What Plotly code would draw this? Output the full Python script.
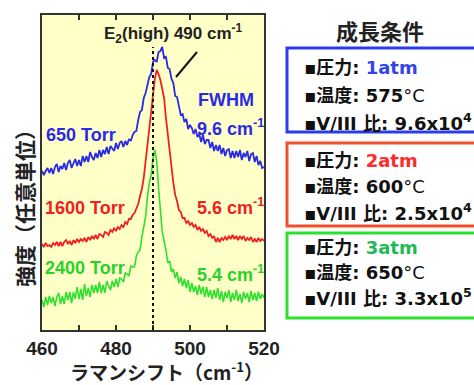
import plotly.graph_objects as go

# ---------------- data ----------------
WAVENUMBER = [460.0, 460.5, 461.0, 461.5, 462.0, 462.5, 463.0, 463.5, 464.0, 464.5,
              465.0, 465.5, 466.0, 466.5, 467.0, 467.5, 468.0, 468.5, 469.0, 469.5,
              470.0, 470.5, 471.0, 471.5, 472.0, 472.5, 473.0, 473.5, 474.0, 474.5,
              475.0, 475.5, 476.0, 476.5, 477.0, 477.5, 478.0, 478.5, 479.0, 479.5,
              480.0, 480.5, 481.0, 481.5, 482.0, 482.5, 483.0, 483.5, 484.0, 484.5,
              485.0, 485.5, 486.0, 486.5, 487.0, 487.5, 488.0, 488.5, 489.0, 489.5,
              490.0, 490.5, 491.0, 491.5, 492.0, 492.5, 493.0, 493.5, 494.0, 494.5,
              495.0, 495.5, 496.0, 496.5, 497.0, 497.5, 498.0, 498.5, 499.0, 499.5,
              500.0, 500.5, 501.0, 501.5, 502.0, 502.5, 503.0, 503.5, 504.0, 504.5,
              505.0, 505.5, 506.0, 506.5, 507.0, 507.5, 508.0, 508.5, 509.0, 509.5,
              510.0, 510.5, 511.0, 511.5, 512.0, 512.5, 513.0, 513.5, 514.0, 514.5,
              515.0, 515.5, 516.0, 516.5, 517.0, 517.5, 518.0, 518.5, 519.0, 519.5,
              520.0]

TORR_650 = [159, 155, 159, 162, 157, 162, 156, 163, 166, 158,
            164, 161, 167, 160, 167, 170, 162, 167, 171, 164,
            170, 164, 174, 168, 174, 168, 178, 173, 170, 177,
            172, 180, 173, 180, 176, 183, 176, 184, 182, 179,
            187, 181, 187, 189, 183, 189, 185, 191, 189, 195,
            198, 199, 210, 218, 220, 232, 237, 247, 253, 256,
            268, 270, 268, 278, 279, 283, 272, 273, 262, 261,
            251, 247, 234, 233, 225, 215, 216, 208, 211, 201,
            205, 202, 196, 201, 193, 196, 188, 195, 186, 190,
            190, 182, 188, 179, 185, 179, 185, 176, 182, 174,
            180, 181, 172, 179, 172, 179, 173, 180, 170, 177,
            173, 179, 169, 176, 177, 168, 174, 165, 169, 162,
            163]

TORR_1600 = [86, 83, 87, 84, 85, 83, 87, 85, 88, 84,
             88, 84, 88, 90, 86, 89, 85, 90, 87, 91,
             88, 91, 89, 92, 88, 93, 90, 94, 91, 95,
             91, 96, 95, 93, 98, 97, 95, 100, 98, 102,
             99, 103, 101, 105, 103, 108, 106, 111, 111, 115,
             117, 122, 126, 134, 141, 152, 167, 182, 201, 218,
             235, 251, 260, 256, 250, 241, 232, 212, 195, 179,
             160, 147, 135, 129, 120, 118, 112, 112, 107, 109,
             105, 107, 103, 105, 100, 103, 99, 101, 97, 99,
             94, 96, 92, 94, 88, 92, 88, 92, 90, 93,
             90, 94, 91, 95, 91, 94, 90, 94, 91, 94,
             89, 92, 90, 93, 88, 91, 88, 92, 89, 91,
             89]

TORR_2400 = [30, 23, 33, 25, 34, 27, 33, 24, 33, 37,
             26, 34, 26, 38, 30, 38, 27, 38, 31, 43,
             31, 41, 30, 46, 34, 42, 33, 45, 37, 45,
             37, 48, 37, 45, 37, 49, 44, 40, 49, 43,
             51, 43, 52, 51, 48, 57, 56, 54, 64, 63,
             63, 74, 78, 80, 93, 104, 113, 133, 147, 155,
             172, 180, 169, 142, 123, 98, 89, 80, 67, 69,
             58, 61, 52, 58, 47, 53, 44, 51, 42, 50,
             38, 47, 38, 44, 35, 45, 36, 43, 33, 43,
             33, 40, 31, 40, 32, 42, 30, 39, 28, 38,
             32, 40, 28, 37, 30, 40, 29, 36, 27, 38,
             31, 37, 28, 39, 30, 37, 29, 38, 31, 36,
             32]

SERIES_NAMES = ["650 Torr", "1600 Torr", "2400 Torr"]
FWHM_LABELS = ["9.6", "5.6", "5.4"]
PEAK_POS = 490

COND_PRESSURE = ["1atm", "2atm", "3atm"]
COND_TEMP = ["575", "600", "650"]
COND_RATIO = ["9.6x10<sup>4</sup>", "2.5x10<sup>4</sup>", "3.3x10<sup>5</sup>"]

assert len(WAVENUMBER) == len(TORR_650) == len(TORR_1600) == len(TORR_2400)

# ---------------- styles ----------------
W, H = 474, 385
PL, PR, PT, PB = 42, 264, 15, 330
BLUE = "#2a2ae6"
RED = "#f02020"
GREEN = "#30e030"
GREEN_TXT = "#2ad22a"
FONT_LAT = "Liberation Sans, Arial, Noto Sans CJK JP, sans-serif"
FONT_CJK = "Noto Sans CJK JP, sans-serif"
FONT_RIGHT = "DejaVu Sans, Noto Sans CJK JP, sans-serif"


def pxx(px):
    return (px - PL) / (PR - PL)


def pxy(py):
    return (PB - py) / (PB - PT)


fig = go.Figure()
for name, ys, col, w in [(SERIES_NAMES[0], TORR_650, BLUE, 1.8),
                         (SERIES_NAMES[1], TORR_1600, RED, 1.8),
                         (SERIES_NAMES[2], TORR_2400, GREEN, 1.6)]:
    fig.add_trace(go.Scatter(x=WAVENUMBER, y=ys, mode="lines", name=name,
                             line=dict(color=col, width=w), showlegend=False))

shapes = []
# dotted peak line
shapes.append(dict(type="line", xref="x", yref="paper", x0=PEAK_POS, x1=PEAK_POS,
                   y0=0, y1=pxy(47), line=dict(color="#111", width=2, dash="dot")))
# leader line
shapes.append(dict(type="line", xref="paper", yref="paper", x0=pxx(176), y0=pxy(77),
                   x1=pxx(197), y1=pxy(52), line=dict(color="#111", width=2)))
# condition boxes
for (top, bot, col) in [(48, 132, "#2a3cf0"), (143, 226, "#f0502a"), (233, 318, "#2ee02e")]:
    shapes.append(dict(type="rect", xref="paper", yref="paper", x0=pxx(287), x1=pxx(490),
                       y0=pxy(bot), y1=pxy(top), line=dict(color=col, width=3),
                       fillcolor="rgba(0,0,0,0)"))

ann = []


def add(text, px, py, size, color="#111", xanchor="left", font=FONT_LAT, **kw):
    ann.append(dict(text=text, xref="paper", yref="paper", x=pxx(px), y=pxy(py),
                    xanchor=xanchor, yanchor="middle", showarrow=False,
                    font=dict(size=size, color=color, family=font), **kw))


add("<b>E<sub>2</sub>(high) 490 cm<sup>-1</sup></b>", 173, 33, 17, "#222", "center")
add("<b>" + SERIES_NAMES[0] + "</b>", 44, 135, 18, BLUE)
add("<b>FWHM</b>", 196, 100, 18, BLUE)
add("<b>" + FWHM_LABELS[0] + " cm<sup>-1</sup></b>", 195, 128, 18, BLUE)
add("<b>" + SERIES_NAMES[1] + "</b>", 43, 208, 18, RED)
add("<b>" + FWHM_LABELS[1] + " cm<sup>-1</sup></b>", 195, 206, 18, RED)
add("<b>" + SERIES_NAMES[2] + "</b>", 43, 268, 18, GREEN_TXT)
add("<b>" + FWHM_LABELS[2] + " cm<sup>-1</sup></b>", 195, 273, 18, GREEN_TXT)

# axis titles
add("<b>ラマンシフト（cm<sup>-1</sup>）</b>", 166, 371, 19, "#222", "center", FONT_CJK)
ann.append(dict(text="<b>強度（任意単位）</b>", xref="paper", yref="paper", x=pxx(24), y=pxy(203),
                xanchor="center", yanchor="middle", showarrow=False, textangle=-90,
                font=dict(size=21, color="#222", family=FONT_CJK)))

# right panel
add("<b>成長条件</b>", 380, 30, 22, "#222", "center", FONT_CJK)
rows = [(68, 95, 122, "#3344ee"), (160, 186, 212, "#ff2a2a"), (247, 272, 297, "#22b855")]
for i, (y1, y2, y3, col) in enumerate(rows):
    add("<b>▪圧力: <span style='color:%s'>%s</span></b>" % (col, COND_PRESSURE[i]), 302, y1, 18,
        "#111", font=FONT_RIGHT)
    add("<b>▪温度: %s</b>°C" % COND_TEMP[i], 302, y2, 18, "#111", font=FONT_RIGHT)
    add("<b>▪V/III 比: %s</b>" % COND_RATIO[i], 302, y3, 18, "#111", font=FONT_RIGHT)

fig.update_layout(
    width=W, height=H,
    margin=dict(l=PL, r=W - PR, t=PT, b=H - PB, pad=0),
    paper_bgcolor="white",
    plot_bgcolor="#ffffc8",
    shapes=shapes,
    annotations=ann,
    xaxis=dict(range=[460, 520], tick0=460, dtick=20,
               ticks="inside", ticklen=5, tickwidth=2, tickcolor="#333",
               minor=dict(dtick=10, ticks="inside", ticklen=5, tickwidth=2, tickcolor="#333"),
               showline=True, linecolor="#333", linewidth=2, mirror="allticks",
               showgrid=False, zeroline=False,
               tickfont=dict(size=19, color="#222", family="Liberation Sans, Arial, sans-serif",
                             weight="bold"),
               ),
    yaxis=dict(range=[0, 315], showticklabels=False, ticks="",
               showline=True, linecolor="#333", linewidth=2, mirror=True,
               showgrid=False, zeroline=False),
)

fig.write_html("out.html", config={"displayModeBar": False},
               post_script="document.body.style.margin='0';document.body.style.overflow='hidden';")
